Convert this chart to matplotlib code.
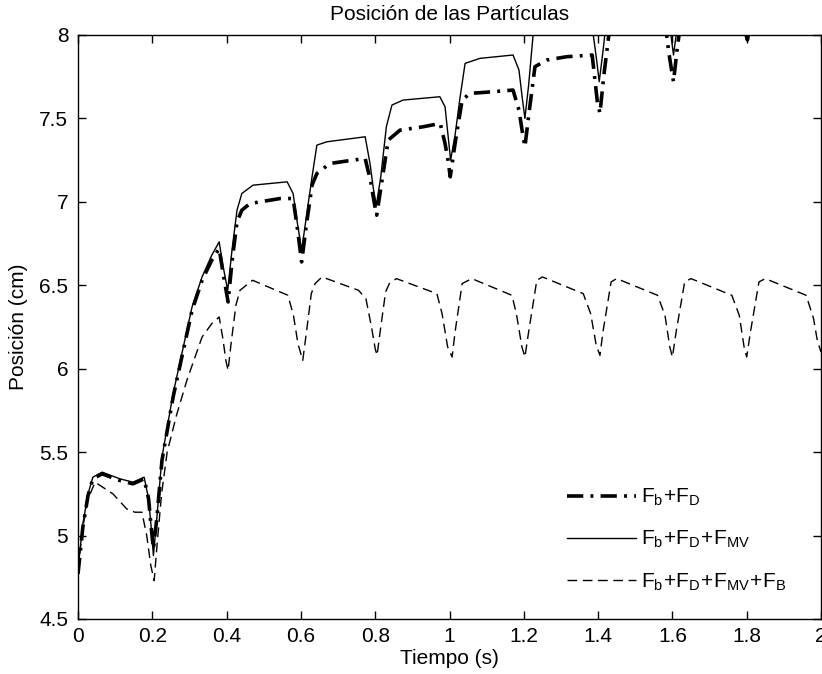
import matplotlib
matplotlib.use("Agg")
import matplotlib.pyplot as plt

# ---- data ----
t_fd = [0.000, 0.013, 0.027, 0.040, 0.065, 0.113, 0.148, 0.178, 0.190, 0.197, 0.203, 0.212,
        0.226, 0.256, 0.307, 0.334, 0.360, 0.380, 0.390, 0.404, 0.415, 0.428, 0.441, 0.463,
        0.544, 0.579, 0.590, 0.602, 0.614, 0.630, 0.643, 0.678, 0.740, 0.773, 0.788, 0.797,
        0.804, 0.815, 0.835, 0.867, 0.929, 0.975, 0.988, 0.996, 1.002, 1.015, 1.034, 1.055,
        1.117, 1.171, 1.187, 1.196, 1.203, 1.215, 1.230, 1.262, 1.316, 1.384, 1.392, 1.398,
        1.405, 1.415, 1.430, 1.460, 1.580, 1.590, 1.597, 1.603, 1.613, 1.630, 1.660, 1.780,
        1.790, 1.796, 1.802, 1.812, 1.830, 1.860, 1.980, 2.000]
y_fd = [4.77, 5.05, 5.24, 5.34, 5.37, 5.33, 5.31, 5.34, 5.22, 5.05, 4.92, 5.10,
        5.45, 5.83, 6.35, 6.53, 6.65, 6.72, 6.58, 6.40, 6.65, 6.88, 6.95, 6.99,
        7.02, 7.02, 6.85, 6.64, 6.85, 7.10, 7.17, 7.23, 7.25, 7.26, 7.12, 7.00,
        6.92, 7.08, 7.37, 7.43, 7.45, 7.47, 7.35, 7.25, 7.15, 7.35, 7.61, 7.65,
        7.66, 7.67, 7.55, 7.42, 7.33, 7.55, 7.81, 7.85, 7.87, 7.88, 7.72, 7.60,
        7.53, 7.75, 8.02, 8.06, 8.08, 7.90, 7.80, 7.72, 7.92, 8.20, 8.24, 8.26,
        8.10, 8.02, 7.97, 8.10, 8.38, 8.42, 8.44, 8.20]

t_mv = [0.000, 0.013, 0.027, 0.040, 0.065, 0.113, 0.148, 0.178, 0.190, 0.197, 0.203, 0.212,
        0.226, 0.256, 0.307, 0.334, 0.360, 0.380, 0.390, 0.403, 0.415, 0.428, 0.441, 0.471,
        0.563, 0.579, 0.590, 0.602, 0.614, 0.630, 0.643, 0.670, 0.773, 0.786, 0.795, 0.803,
        0.815, 0.830, 0.845, 0.875, 0.974, 0.988, 0.996, 1.003, 1.015, 1.028, 1.042, 1.082,
        1.171, 1.187, 1.196, 1.203, 1.213, 1.225, 1.245, 1.290, 1.372, 1.387, 1.396, 1.403,
        1.413, 1.428, 1.445, 1.490, 1.572, 1.587, 1.596, 1.603, 1.613, 1.628, 1.645, 1.690,
        1.772, 1.787, 1.796, 1.803, 1.813, 1.828, 1.845, 1.890, 1.972, 1.987, 2.000]
y_mv = [4.80, 5.07, 5.25, 5.35, 5.38, 5.34, 5.32, 5.35, 5.22, 5.05, 4.88, 5.10,
        5.47, 5.85, 6.37, 6.55, 6.68, 6.76, 6.62, 6.47, 6.72, 6.95, 7.05, 7.10,
        7.12, 7.05, 6.88, 6.71, 6.90, 7.15, 7.34, 7.36, 7.39, 7.23, 7.08, 6.98,
        7.15, 7.45, 7.58, 7.61, 7.63, 7.57, 7.40, 7.25, 7.40, 7.62, 7.83, 7.86,
        7.88, 7.79, 7.62, 7.50, 7.70, 8.00, 8.08, 8.11, 8.13, 8.00, 7.85, 7.72,
        7.90, 8.20, 8.30, 8.33, 8.35, 8.15, 8.00, 7.88, 8.05, 8.40, 8.50, 8.53,
        8.55, 8.35, 8.18, 8.08, 8.25, 8.60, 8.70, 8.72, 8.74, 8.55, 8.30]

t_b = [0.000, 0.013, 0.027, 0.046, 0.094, 0.131, 0.153, 0.172, 0.185, 0.196, 0.205, 0.213,
       0.225, 0.240, 0.265, 0.293, 0.334, 0.360, 0.380, 0.390, 0.398, 0.404, 0.412, 0.425,
       0.436, 0.470, 0.565, 0.580, 0.592, 0.605, 0.615, 0.628, 0.638, 0.657, 0.755, 0.775,
       0.790, 0.800, 0.805, 0.815, 0.828, 0.838, 0.857, 0.966, 0.980, 0.995, 1.007, 1.015,
       1.034, 1.060, 1.168, 1.180, 1.195, 1.203, 1.213, 1.235, 1.250, 1.360, 1.380, 1.395,
       1.405, 1.413, 1.435, 1.450, 1.560, 1.580, 1.593, 1.600, 1.610, 1.633, 1.650, 1.760,
       1.780, 1.793, 1.800, 1.810, 1.833, 1.850, 1.960, 1.980, 1.990, 2.000]
y_b = [4.80, 5.05, 5.22, 5.32, 5.25, 5.16, 5.14, 5.14, 5.00, 4.82, 4.73, 4.95,
       5.25, 5.50, 5.72, 5.93, 6.19, 6.27, 6.31, 6.18, 6.05, 5.99, 6.15, 6.38,
       6.47, 6.53, 6.44, 6.32, 6.15, 6.05, 6.22, 6.45, 6.51, 6.55, 6.47, 6.42,
       6.25, 6.12, 6.08, 6.25, 6.46, 6.51, 6.54, 6.45, 6.33, 6.13, 6.07, 6.22,
       6.51, 6.54, 6.44, 6.33, 6.13, 6.07, 6.22, 6.53, 6.55, 6.45, 6.33, 6.14,
       6.08, 6.22, 6.52, 6.54, 6.44, 6.32, 6.13, 6.07, 6.22, 6.52, 6.54, 6.44,
       6.32, 6.13, 6.07, 6.22, 6.52, 6.54, 6.44, 6.30, 6.17, 6.10]

labels = [r'$\mathregular{F_b\!+\!F_D}$',
          r'$\mathregular{F_b\!+\!F_D\!+\!F_{MV}}$',
          r'$\mathregular{F_b\!+\!F_D\!+\!F_{MV}\!+\!F_B}$']
xticks = [0, 0.2, 0.4, 0.6, 0.8, 1.0, 1.2, 1.4, 1.6, 1.8, 2.0]
xticklabels = ['0', '0.2', '0.4', '0.6', '0.8', '1', '1.2', '1.4', '1.6', '1.8', '2']
yticks = [4.5, 5, 5.5, 6, 6.5, 7, 7.5, 8]
yticklabels = ['4.5', '5', '5.5', '6', '6.5', '7', '7.5', '8']

plt.rcParams['font.family'] = ['Liberation Sans', 'DejaVu Sans']
plt.rcParams['mathtext.fontset'] = 'custom'
plt.rcParams['mathtext.rm'] = 'Liberation Sans'
plt.rcParams['mathtext.it'] = 'Liberation Sans'

fig = plt.figure(figsize=(8.22, 6.74), dpi=100)
ax = fig.add_axes([78 / 822, 1 - 619 / 674, 743 / 822, 584 / 674])

l1, = ax.plot(t_fd, y_fd, color='black', lw=2.6, dashes=(4.5, 2.0, 0.8, 2.0))
l2, = ax.plot(t_mv, y_mv, color='black', lw=1.0)
l3, = ax.plot(t_b, y_b, color='black', lw=1.0, dashes=(7, 4))

ax.set_xlim(0, 2)
ax.set_ylim(4.5, 8)
ax.set_xticks(xticks)
ax.set_xticklabels(xticklabels)
ax.set_yticks(yticks)
ax.set_yticklabels(yticklabels)
ax.tick_params(direction='in', top=True, right=True, length=6, width=1,
               labelsize=15)
ax.tick_params(axis='x', pad=6)
ax.tick_params(axis='y', pad=7)
for s in ax.spines.values():
    s.set_linewidth(1.0)

ax.set_title('Posición de las Partículas', fontsize=15, pad=11)
ax.set_xlabel('Tiempo (s)', fontsize=15, labelpad=2)
ax.set_ylabel('Posición (cm)', fontsize=15, labelpad=8)

leg = ax.legend([l1, l2, l3], labels, loc='upper left',
                bbox_to_anchor=(0.658, 0.226), frameon=False, fontsize=15,
                handlelength=3.3, handletextpad=0.25, labelspacing=1.0,
                borderaxespad=0, borderpad=0)

fig.savefig('out.png', dpi=100)
